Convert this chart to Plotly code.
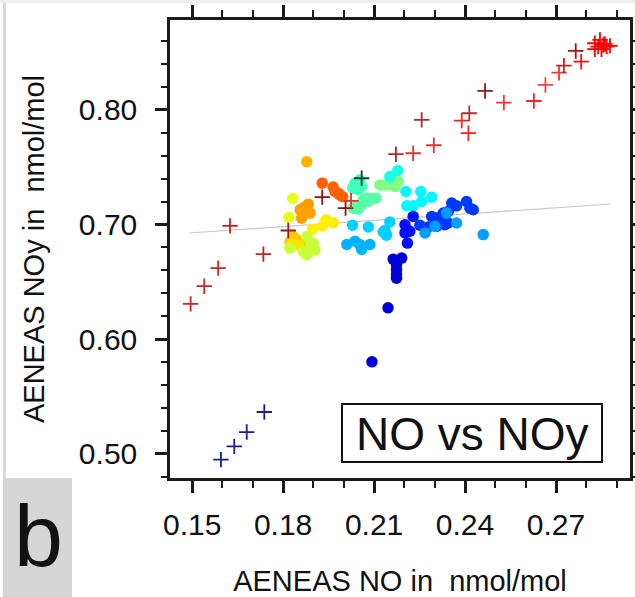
import plotly.graph_objects as go

# ---- measured NO / NOy pairs (nmol/mol), coloured by sequence index ----
circle_no = [
    0.1929, 0.1965, 0.1971, 0.1987, 0.1996, 0.1982,
    0.1878,
    0.1883, 0.1856, 0.1889, 0.1861, 0.1870,
    0.1832, 0.1819,
    0.1941, 0.1965, 0.1930, 0.1897,
    0.1833, 0.1845, 0.1823, 0.1856, 0.1840,
    0.1830, 0.1850, 0.1822,
    0.1878, 0.1899, 0.1905, 0.1878, 0.1867, 0.1823, 0.1890,
    0.2037, 0.2053, 0.2059, 0.2048, 0.2031, 0.2030,
    0.2064, 0.2075, 0.2092, 0.2106, 0.2081, 0.2059, 0.2048, 0.2031, 0.2042,
    0.2119, 0.2136, 0.2152, 0.2169, 0.2180, 0.2169,
    0.2152, 0.2178,
    0.2205, 0.2254, 0.2290, 0.2257, 0.2208, 0.2229,
    0.2029, 0.2081, 0.2152, 0.2136, 0.2141, 0.2130,
    0.2010, 0.2037, 0.2053, 0.2059, 0.2086,
    0.2229, 0.2202, 0.2207, 0.2218, 0.2202, 0.2210,
    0.2251, 0.2279, 0.2290, 0.2306, 0.2328, 0.2345, 0.2356, 0.2372, 0.2405,
    0.2416, 0.2427, 0.2323, 0.2306, 0.2333, 0.2345,
    0.2301, 0.2339, 0.2372, 0.2268, 0.2460,
    0.2163, 0.2191, 0.2174, 0.2174, 0.2174, 0.2174, 0.2146, 0.2093,
]
circle_noy = [
    0.7361, 0.7327, 0.7288, 0.7258, 0.7244, 0.7274,
    0.7549,
    0.7178, 0.7128, 0.7099, 0.7055, 0.7150,
    0.7227, 0.7063,
    0.7041, 0.7017, 0.6988, 0.6959,
    0.6895, 0.6866, 0.6852, 0.6837, 0.6880,
    0.6830, 0.6820, 0.6800,
    0.6895, 0.6837, 0.6779, 0.6735, 0.6764, 0.6794, 0.6810,
    0.7361, 0.7390, 0.7332, 0.7303, 0.7317, 0.7320,
    0.7215, 0.7230, 0.7230, 0.7230, 0.7201, 0.7172, 0.7135, 0.7143, 0.7157,
    0.7346, 0.7346, 0.7346, 0.7361, 0.7375, 0.7332,
    0.7419, 0.7471,
    0.7288, 0.7288, 0.7239, 0.7201, 0.7163, 0.7163,
    0.6994, 0.6979, 0.7023, 0.6950, 0.6907, 0.6936,
    0.6826, 0.6855, 0.6826, 0.6783, 0.6826,
    0.7071, 0.6999, 0.6955, 0.6941, 0.6927, 0.6838,
    0.6994, 0.6979, 0.7071, 0.7057, 0.7100, 0.7115, 0.7187, 0.7163, 0.7201,
    0.7143, 0.7129, 0.7013, 0.6984, 0.6999, 0.7013,
    0.6984, 0.7100, 0.7013, 0.6927, 0.6912,
    0.6698, 0.6707, 0.6649, 0.6605, 0.6562, 0.6532, 0.6273, 0.5802,
]
circle_seq = (
    [0.78] * 6 + [0.70] + [0.72] * 5 + [0.60] * 2 + [0.64] * 4
    + [0.68] * 5 + [0.65] * 3 + [0.57] * 7
    + [0.44] * 6 + [0.46] * 9 + [0.50] * 6 + [0.40] * 2 + [0.37] * 6
    + [0.33] * 6 + [0.30] * 5 + [0.14] * 6 + [0.18] * 15 + [0.28] * 5
    + [0.08] * 8
)

# ---- modelled values (crosses) ----
cross_no = [
    0.1595, 0.1639, 0.1680, 0.1738,
    0.1495, 0.1540, 0.1586, 0.1625, 0.1735, 0.1817, 0.1929, 0.2006,
    0.2024, 0.2059, 0.2172, 0.2229, 0.2297, 0.2257, 0.2389, 0.2414,
    0.2411, 0.2466, 0.2528, 0.2627, 0.2665, 0.2710, 0.2726, 0.2765,
    0.2783,
    0.2828, 0.2845, 0.2856, 0.2839, 0.2867, 0.2878, 0.2828, 0.2850, 0.2861,
]
cross_noy = [
    0.4948, 0.5064, 0.5189, 0.5364,
    0.6308, 0.6462, 0.6620, 0.6988, 0.6742, 0.6948, 0.7239, 0.7143,
    0.7207, 0.7404, 0.7614, 0.7622, 0.7692, 0.7913, 0.7907, 0.7971,
    0.7797, 0.8166, 0.8064, 0.8078, 0.8218, 0.8325, 0.8387, 0.8515,
    0.8421,
    0.8582, 0.8611, 0.8567, 0.8553, 0.8553, 0.8559, 0.8530, 0.8530, 0.8576,
]
cross_colors = (
    ["#1c1c96"] * 4
    + ["#cc2424", "#cc2424", "#cc2424", "#c42020", "#c42020", "#a01818",
       "#8b1010", "#8b1010", "#e83020", "#1e3a28", "#c02020", "#e03030",
       "#e83030", "#a03030", "#ff2020", "#b03030", "#ff2020", "#901818",
       "#ff3030", "#ff2020", "#ff4040", "#ff3030", "#d02020", "#b01010",
       "#ff1010"]
    + ["#ff0000"] * 9
)

# ---- linear fit of NOy on NO ----
fit_intercept = 0.6655
fit_slope = 0.182
fit_no = [0.149, 0.288]
fit_noy = [fit_intercept + fit_slope * v for v in fit_no]

x_ticks = [0.15, 0.18, 0.21, 0.24, 0.27]
y_ticks = [0.50, 0.60, 0.70, 0.80]

jet = [
    [0.0, "#00008f"], [0.125, "#0000ff"], [0.375, "#00ffff"],
    [0.625, "#ffff00"], [0.875, "#ff0000"], [1.0, "#800000"],
]

FONT = "Liberation Sans, Arial, Helvetica, sans-serif"

fig = go.Figure()

fig.add_trace(go.Scatter(
    x=fit_no, y=fit_noy, mode="lines",
    line=dict(color="#c8c8c8", width=1.2),
    hoverinfo="skip", showlegend=False,
))

fig.add_trace(go.Scatter(
    x=circle_no, y=circle_noy, mode="markers",
    marker=dict(size=11.5, color=circle_seq, colorscale=jet, cmin=0, cmax=1,
                line=dict(width=0)),
    showlegend=False,
))

fig.add_trace(go.Scatter(
    x=cross_no, y=cross_noy, mode="markers",
    marker=dict(symbol="cross-thin", size=11,
                line=dict(width=1.8, color=cross_colors)),
    showlegend=False,
))

axis_common = dict(
    showgrid=False, zeroline=False, showline=True, linecolor="#1a1a1a",
    linewidth=2.5, mirror="allticks", ticks="outside", tickcolor="#1a1a1a",
    tickwidth=2.5, ticklen=12, tickfont=dict(family=FONT, size=30, color="#111"),
)

fig.update_xaxes(
    **axis_common,
    range=[0.1427, 0.2944],
    tickvals=x_ticks, ticktext=[f"{v:.2f}" for v in x_ticks],
    ticklabelstandoff=6,
    minor=dict(dtick=0.01, tick0=0.15, ticks="outside", ticklen=7,
               tickwidth=2, tickcolor="#1a1a1a"),
    title=dict(text="AENEAS NO in  nmol/mol", standoff=32,
               font=dict(family=FONT, size=29, color="#111")),
)
fig.update_yaxes(
    **axis_common,
    range=[0.4788, 0.8785],
    tickvals=y_ticks, ticktext=[f"{v:.2f}" for v in y_ticks],
    ticklabelstandoff=12,
    minor=dict(dtick=0.02, tick0=0.50, ticks="outside", ticklen=6,
               tickwidth=2, tickcolor="#1a1a1a"),
    title=dict(text="AENEAS NOy in  nmol/mol", standoff=26,
               font=dict(family=FONT, size=29, color="#111")),
)

L, R, T, B = 170, 5, 20, 119
W, H = 635, 597
PW, PH = W - L - R, H - T - B


def px_x(p):
    return (p - L) / PW


def px_y(p):
    return (H - B - p) / PH


shapes = [
    # thin page strip at top and left
    dict(type="rect", xref="paper", yref="paper", x0=px_x(0), x1=px_x(W),
         y0=px_y(3), y1=px_y(0), fillcolor="#eeeeee", line=dict(width=0),
         layer="below"),
    dict(type="rect", xref="paper", yref="paper", x0=px_x(3), x1=px_x(6),
         y0=px_y(478), y1=px_y(3), fillcolor="#d9d9d9", line=dict(width=0),
         layer="below"),
    # panel letter background
    dict(type="rect", xref="paper", yref="paper", x0=px_x(3), x1=px_x(72),
         y0=px_y(H), y1=px_y(478), fillcolor="#d6d6d6", line=dict(width=0),
         layer="below"),
    # label box
    dict(type="rect", xref="paper", yref="paper", x0=px_x(342), x1=px_x(602),
         y0=px_y(462), y1=px_y(404), fillcolor="white",
         line=dict(color="#111", width=2)),
]

annotations = [
    dict(text="NO vs NOy", xref="paper", yref="paper",
         x=px_x(472), y=px_y(434), xanchor="center", yanchor="middle",
         showarrow=False, font=dict(family=FONT, size=46, color="#111")),
    dict(text="b", xref="paper", yref="paper",
         x=px_x(38), y=px_y(535), xanchor="center", yanchor="middle",
         showarrow=False, font=dict(family=FONT, size=88, color="#111")),
]

fig.update_layout(
    width=W, height=H,
    margin=dict(l=L, r=R, t=T, b=B, autoexpand=False),
    paper_bgcolor="white", plot_bgcolor="white",
    shapes=shapes, annotations=annotations,
)

fig.write_html("out.html")
